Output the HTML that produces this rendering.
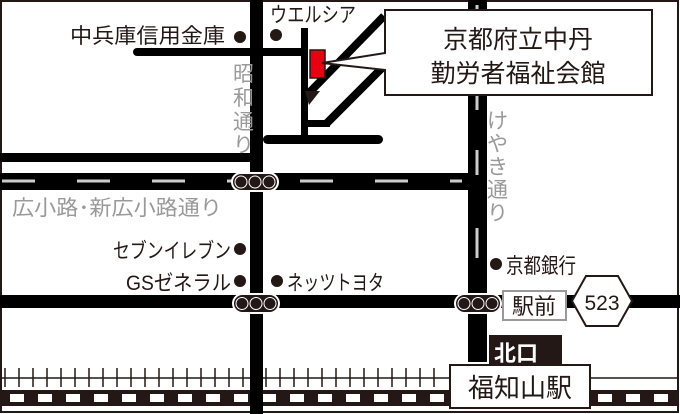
<!DOCTYPE html>
<html><head><meta charset="utf-8"><style>
html,body{margin:0;padding:0;background:#fff;}
svg{display:block;}
text{font-family:"Liberation Sans","Noto Sans CJK JP",sans-serif;}
</style></head><body>
<svg width="680" height="414" viewBox="0 0 680 414" xmlns="http://www.w3.org/2000/svg">
<rect x="1" y="1" width="677" height="411" fill="#fff" stroke="#231815" stroke-width="2"/>
<g stroke="#231815" stroke-width="1.5">
<line x1="2" y1="378" x2="455" y2="378"/>
<line x1="590" y1="378" x2="678" y2="378"/>
<path d="M5 368V387M19 368V387M33 368V387M47 368V387M61 368V387M75 368V387M89 368V387M103 368V387M117 368V387M131 368V387M145 368V387M159 368V387M173 368V387M187 368V387M201 368V387M215 368V387M229 368V387M243 368V387M266 368V387M280 368V387M294 368V387M308 368V387M322 368V387M336 368V387M350 368V387M364 368V387M378 368V387M392 368V387M406 368V387M420 368V387M434 368V387"/>
</g>
<rect x="2" y="390" width="676" height="16" fill="#231815"/>
<g fill="#fff">
<rect x="10" y="394" width="14" height="8"/><rect x="38" y="394" width="14" height="8"/><rect x="66" y="394" width="14" height="8"/><rect x="94" y="394" width="14" height="8"/><rect x="122" y="394" width="14" height="8"/><rect x="150" y="394" width="14" height="8"/><rect x="178" y="394" width="14" height="8"/><rect x="206" y="394" width="14" height="8"/><rect x="234" y="394" width="14" height="8"/><rect x="262" y="394" width="14" height="8"/><rect x="290" y="394" width="14" height="8"/><rect x="318" y="394" width="14" height="8"/><rect x="346" y="394" width="14" height="8"/><rect x="374" y="394" width="14" height="8"/><rect x="402" y="394" width="14" height="8"/><rect x="430" y="394" width="14" height="8"/><rect x="598" y="394" width="14" height="8"/><rect x="626" y="394" width="14" height="8"/><rect x="654" y="394" width="14" height="8"/>
</g>
<g fill="#000">
<rect x="250" y="0" width="13" height="414"/>
<rect x="0" y="153" width="251" height="9"/>
<rect x="0" y="173" width="487" height="17"/>
<rect x="0" y="295" width="680" height="13"/>
<rect x="468" y="0" width="19" height="362"/>
<rect x="301" y="28" width="7" height="107"/>
<rect x="263" y="135" width="120" height="9" rx="4.5"/>
<rect x="133" y="48" width="172" height="8" rx="4"/>
<rect x="305" y="120" width="25" height="7"/>
</g>
<line x1="306" y1="96" x2="384" y2="16" stroke="#000" stroke-width="8"/>
<line x1="326" y1="124" x2="383" y2="67" stroke="#000" stroke-width="8"/>
<polygon points="305,91 320,91 309,105" fill="#231815"/>
<rect x="310" y="50" width="15" height="28" fill="#e60012" stroke="#231815" stroke-width="1.5"/>
<g stroke="#ccc" stroke-width="3">
<path d="M2 181H35M77 181H110M152 181H185M227 181H232M300 181H333M375 181H408M450 181H462"/>
<path d="M477 5V25M477 95V110M477 150V175M477 228V258"/>
</g>
<g>
<rect x="232" y="173" width="46" height="18" rx="9" fill="#231815" stroke="#fff" stroke-width="2"/>
<rect x="233" y="294" width="46" height="19" rx="9.5" fill="#231815" stroke="#fff" stroke-width="2"/>
<rect x="455" y="294" width="46" height="19" rx="9.5" fill="#231815" stroke="#fff" stroke-width="2"/>
<g fill="#231815" stroke="#fff" stroke-width="1">
<circle cx="241" cy="182" r="6"/><circle cx="255" cy="182" r="6"/><circle cx="269" cy="182" r="6"/>
<circle cx="242" cy="303.5" r="6"/><circle cx="256" cy="303.5" r="6"/><circle cx="270" cy="303.5" r="6"/>
<circle cx="464" cy="303.5" r="6"/><circle cx="478" cy="303.5" r="6"/><circle cx="492" cy="303.5" r="6"/>
</g>
</g>
<path d="M385 10H652V95H385V70L322 63L385 53Z" fill="#fff" stroke="#231815" stroke-width="2"/>
<text x="518" y="48" font-size="25" text-anchor="middle" fill="#231815">京都府立中丹</text>
<text x="518" y="82" font-size="25" text-anchor="middle" fill="#231815">勤労者福祉会館</text>
<g fill="#231815">
<circle cx="240" cy="37" r="6"/><circle cx="276" cy="35" r="6"/>
<circle cx="240" cy="249" r="6"/><circle cx="240" cy="281" r="6"/>
<circle cx="277" cy="281" r="6"/><circle cx="496" cy="264" r="6"/>
</g>
<g fill="#231815" font-size="21">
<text x="70" y="43" textLength="155" lengthAdjust="spacingAndGlyphs">中兵庫信用金庫</text>
<text x="270" y="22" textLength="86" lengthAdjust="spacingAndGlyphs">ウエルシア</text>
<text x="113" y="258" textLength="118" lengthAdjust="spacingAndGlyphs">セブンイレブン</text>
<text x="126" y="290" textLength="105" lengthAdjust="spacingAndGlyphs">GSゼネラル</text>
<text x="287" y="290" textLength="97" lengthAdjust="spacingAndGlyphs">ネッツトヨタ</text>
<text x="506" y="273" textLength="70" lengthAdjust="spacingAndGlyphs">京都銀行</text>
</g>
<g fill="#999" font-size="21">
<text x="12" y="215" textLength="210" lengthAdjust="spacingAndGlyphs">広小路･新広小路通り</text>
<text x="233" y="81">昭</text><text x="233" y="105">和</text><text x="233" y="129">通</text><text x="233" y="152">り</text>
<text x="487" y="128">け</text><text x="487" y="151">や</text><text x="487" y="174">き</text><text x="487" y="197">通</text><text x="487" y="220">り</text>
</g>
<rect x="503" y="291" width="63" height="29" fill="#fff" stroke="#999" stroke-width="2"/>
<text x="534" y="314" font-size="22" text-anchor="middle" fill="#231815">駅前</text>
<polygon points="572,301 586,276 618,276 632,301 618,326 586,326" fill="#fff" stroke="#231815" stroke-width="2"/>
<text x="602" y="310" font-size="21" text-anchor="middle" fill="#231815">523</text>
<rect x="489" y="335" width="73" height="32" fill="#231815"/>
<text x="516" y="361" font-size="22" text-anchor="middle" fill="#fff" font-weight="bold">北口</text>
<rect x="450" y="365" width="140" height="43" fill="#fff" stroke="#231815" stroke-width="2"/>
<text x="520" y="397" font-size="26" text-anchor="middle" fill="#231815">福知山駅</text>
</svg>
</body></html>
